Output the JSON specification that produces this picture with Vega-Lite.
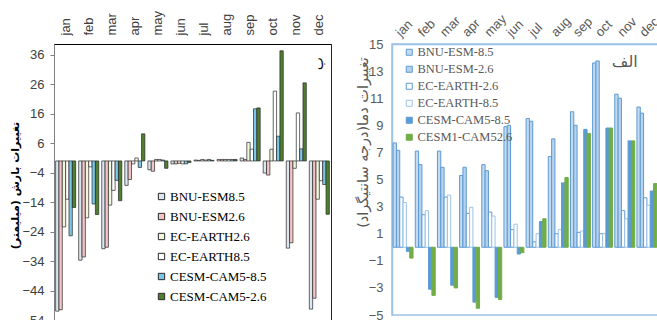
{
  "$schema": "https://vega.github.io/schema/vega-lite/v6.json",
  "padding": {"left": 8, "top": 0, "right": 0, "bottom": 0},
  "background": "white",
  "spacing": 19,
  "resolve": {
    "scale": {"x": "independent", "y": "independent", "xOffset": "independent", "fill": "independent", "stroke": "independent"},
    "legend": {"fill": "independent", "stroke": "independent"}
  },
  "datasets": {
    "precip": [
      {"m":"jan","s":"BNU-ESM8.5","v":-51},{"m":"jan","s":"BNU-ESM2.6","v":-50.5},{"m":"jan","s":"EC-EARTH2.6","v":-22.4},{"m":"jan","s":"EC-EARTH8.5","v":-13},{"m":"jan","s":"CESM-CAM5-8.5","v":-25.4},{"m":"jan","s":"CESM-CAM5-2.6","v":-15.8},
      {"m":"feb","s":"BNU-ESM8.5","v":-33.7},{"m":"feb","s":"BNU-ESM2.6","v":-32.6},{"m":"feb","s":"EC-EARTH2.6","v":-19.3},{"m":"feb","s":"EC-EARTH8.5","v":-2},{"m":"feb","s":"CESM-CAM5-8.5","v":-14.6},{"m":"feb","s":"CESM-CAM5-2.6","v":-18.2},
      {"m":"mar","s":"BNU-ESM8.5","v":-29.8},{"m":"mar","s":"BNU-ESM2.6","v":-29.3},{"m":"mar","s":"EC-EARTH2.6","v":-15},{"m":"mar","s":"EC-EARTH8.5","v":-10},{"m":"mar","s":"CESM-CAM5-8.5","v":-6.6},{"m":"mar","s":"CESM-CAM5-2.6","v":-13.5},
      {"m":"apr","s":"BNU-ESM8.5","v":-8.3},{"m":"apr","s":"BNU-ESM2.6","v":-6.3},{"m":"apr","s":"EC-EARTH2.6","v":-1},{"m":"apr","s":"EC-EARTH8.5","v":1},{"m":"apr","s":"CESM-CAM5-8.5","v":-2.2},{"m":"apr","s":"CESM-CAM5-2.6","v":9.2},
      {"m":"may","s":"BNU-ESM8.5","v":-3},{"m":"may","s":"BNU-ESM2.6","v":-3.5},{"m":"may","s":"EC-EARTH2.6","v":0.5},{"m":"may","s":"EC-EARTH8.5","v":0.5},{"m":"may","s":"CESM-CAM5-8.5","v":0.3},{"m":"may","s":"CESM-CAM5-2.6","v":-2.5},
      {"m":"jun","s":"BNU-ESM8.5","v":-1},{"m":"jun","s":"BNU-ESM2.6","v":-1},{"m":"jun","s":"EC-EARTH2.6","v":-0.8},{"m":"jun","s":"EC-EARTH8.5","v":-1},{"m":"jun","s":"CESM-CAM5-8.5","v":-1},{"m":"jun","s":"CESM-CAM5-2.6","v":-0.5},
      {"m":"jul","s":"BNU-ESM8.5","v":0.3},{"m":"jul","s":"BNU-ESM2.6","v":0.2},{"m":"jul","s":"EC-EARTH2.6","v":0.5},{"m":"jul","s":"EC-EARTH8.5","v":0.3},{"m":"jul","s":"CESM-CAM5-8.5","v":0.5},{"m":"jul","s":"CESM-CAM5-2.6","v":0.2},
      {"m":"aug","s":"BNU-ESM8.5","v":0.5},{"m":"aug","s":"BNU-ESM2.6","v":0.5},{"m":"aug","s":"EC-EARTH2.6","v":0.5},{"m":"aug","s":"EC-EARTH8.5","v":0.5},{"m":"aug","s":"CESM-CAM5-8.5","v":0.5},{"m":"aug","s":"CESM-CAM5-2.6","v":0.5},
      {"m":"sep","s":"BNU-ESM8.5","v":1},{"m":"sep","s":"BNU-ESM2.6","v":0.5},{"m":"sep","s":"EC-EARTH2.6","v":6.3},{"m":"sep","s":"EC-EARTH8.5","v":4},{"m":"sep","s":"CESM-CAM5-8.5","v":17.7},{"m":"sep","s":"CESM-CAM5-2.6","v":18},
      {"m":"oct","s":"BNU-ESM8.5","v":-4.1},{"m":"oct","s":"BNU-ESM2.6","v":-4.8},{"m":"oct","s":"EC-EARTH2.6","v":4},{"m":"oct","s":"EC-EARTH8.5","v":23.7},{"m":"oct","s":"CESM-CAM5-8.5","v":8.4},{"m":"oct","s":"CESM-CAM5-2.6","v":37.4},
      {"m":"nov","s":"BNU-ESM8.5","v":-29.6},{"m":"nov","s":"BNU-ESM2.6","v":-27.8},{"m":"nov","s":"EC-EARTH2.6","v":-2.5},{"m":"nov","s":"EC-EARTH8.5","v":16.3},{"m":"nov","s":"CESM-CAM5-8.5","v":4.1},{"m":"nov","s":"CESM-CAM5-2.6","v":26.5},
      {"m":"dec","s":"BNU-ESM8.5","v":-50.3},{"m":"dec","s":"BNU-ESM2.6","v":-46.6},{"m":"dec","s":"EC-EARTH2.6","v":-13},{"m":"dec","s":"EC-EARTH8.5","v":-6.7},{"m":"dec","s":"CESM-CAM5-8.5","v":-8},{"m":"dec","s":"CESM-CAM5-2.6","v":-18.1}
    ],
    "temp": [
      {"m":"jan","s":"BNU-ESM-8.5","v":7.7},{"m":"jan","s":"BNU-ESM-2.6","v":7.15},{"m":"jan","s":"EC-EARTH-2.6","v":3.7},{"m":"jan","s":"EC-EARTH-8.5","v":3.3},{"m":"jan","s":"CESM-CAM5-8.5","v":-0.3},{"m":"jan","s":"CESM1-CAM52.6","v":-0.8},
      {"m":"feb","s":"BNU-ESM-8.5","v":7.1},{"m":"feb","s":"BNU-ESM-2.6","v":6.1},{"m":"feb","s":"EC-EARTH-2.6","v":2.4},{"m":"feb","s":"EC-EARTH-8.5","v":2.7},{"m":"feb","s":"CESM-CAM5-8.5","v":-3.1},{"m":"feb","s":"CESM1-CAM52.6","v":-3.55},
      {"m":"mar","s":"BNU-ESM-8.5","v":7.1},{"m":"mar","s":"BNU-ESM-2.6","v":5.9},{"m":"mar","s":"EC-EARTH-2.6","v":3.7},{"m":"mar","s":"EC-EARTH-8.5","v":3.85},{"m":"mar","s":"CESM-CAM5-8.5","v":-2.8},{"m":"mar","s":"CESM1-CAM52.6","v":-3.0},
      {"m":"apr","s":"BNU-ESM-8.5","v":5.3},{"m":"apr","s":"BNU-ESM-2.6","v":5.9},{"m":"apr","s":"EC-EARTH-2.6","v":2.5},{"m":"apr","s":"EC-EARTH-8.5","v":2.95},{"m":"apr","s":"CESM-CAM5-8.5","v":-4.05},{"m":"apr","s":"CESM1-CAM52.6","v":-4.5},
      {"m":"may","s":"BNU-ESM-8.5","v":6.1},{"m":"may","s":"BNU-ESM-2.6","v":5.65},{"m":"may","s":"EC-EARTH-2.6","v":2.6},{"m":"may","s":"EC-EARTH-8.5","v":2.3},{"m":"may","s":"CESM-CAM5-8.5","v":-3.7},{"m":"may","s":"CESM1-CAM52.6","v":-3.85},
      {"m":"jun","s":"BNU-ESM-8.5","v":8.9},{"m":"jun","s":"BNU-ESM-2.6","v":9.0},{"m":"jun","s":"EC-EARTH-2.6","v":1.3},{"m":"jun","s":"EC-EARTH-8.5","v":1.7},{"m":"jun","s":"CESM-CAM5-8.5","v":-0.5},{"m":"jun","s":"CESM1-CAM52.6","v":-0.4},
      {"m":"jul","s":"BNU-ESM-8.5","v":9.5},{"m":"jul","s":"BNU-ESM-2.6","v":9.3},{"m":"jul","s":"EC-EARTH-2.6","v":0.4},{"m":"jul","s":"EC-EARTH-8.5","v":1.0},{"m":"jul","s":"CESM-CAM5-8.5","v":1.9},{"m":"jul","s":"CESM1-CAM52.6","v":2.1},
      {"m":"aug","s":"BNU-ESM-8.5","v":6.7},{"m":"aug","s":"BNU-ESM-2.6","v":8.0},{"m":"aug","s":"EC-EARTH-2.6","v":1.0},{"m":"aug","s":"EC-EARTH-8.5","v":1.3},{"m":"aug","s":"CESM-CAM5-8.5","v":4.75},{"m":"aug","s":"CESM1-CAM52.6","v":5.15},
      {"m":"sep","s":"BNU-ESM-8.5","v":10.0},{"m":"sep","s":"BNU-ESM-2.6","v":9.0},{"m":"sep","s":"EC-EARTH-2.6","v":1.1},{"m":"sep","s":"EC-EARTH-8.5","v":1.2},{"m":"sep","s":"CESM-CAM5-8.5","v":8.7},{"m":"sep","s":"CESM1-CAM52.6","v":8.4},
      {"m":"oct","s":"BNU-ESM-8.5","v":13.6},{"m":"oct","s":"BNU-ESM-2.6","v":13.75},{"m":"oct","s":"EC-EARTH-2.6","v":1.0},{"m":"oct","s":"EC-EARTH-8.5","v":1.0},{"m":"oct","s":"CESM-CAM5-8.5","v":8.8},{"m":"oct","s":"CESM1-CAM52.6","v":8.8},
      {"m":"nov","s":"BNU-ESM-8.5","v":11.3},{"m":"nov","s":"BNU-ESM-2.6","v":11.0},{"m":"nov","s":"EC-EARTH-2.6","v":2.7},{"m":"nov","s":"EC-EARTH-8.5","v":2.1},{"m":"nov","s":"CESM-CAM5-8.5","v":7.85},{"m":"nov","s":"CESM1-CAM52.6","v":7.85},
      {"m":"dec","s":"BNU-ESM-8.5","v":10.35},{"m":"dec","s":"BNU-ESM-2.6","v":9.9},{"m":"dec","s":"EC-EARTH-2.6","v":3.65},{"m":"dec","s":"EC-EARTH-8.5","v":3.1},{"m":"dec","s":"CESM-CAM5-8.5","v":4.15},{"m":"dec","s":"CESM1-CAM52.6","v":4.7}
    ]
  },
  "hconcat": [
    {
      "width": 277,
      "height": 276,
      "view": {"stroke": "#262626", "strokeWidth": 1},
      "layer": [
        {
          "mark": {"type": "rule", "color": "#bfbfbf", "strokeWidth": 1},
          "encoding": {"y": {"datum": 0, "type": "quantitative"}}
        },
        {
          "data": {"name": "precip"},
          "mark": {"type": "bar", "stroke": "#262626", "strokeWidth": 0.7},
          "encoding": {
            "x": {"field": "m", "type": "nominal", "sort": ["jan","feb","mar","apr","may","jun","jul","aug","sep","oct","nov","dec"],
              "scale": {"paddingInner": 0.13, "paddingOuter": 0.07},
              "axis": {"orient": "top", "title": null, "labelAngle": -90, "ticks": false, "labelPadding": 9, "labelOverlap": false, "labelFont": "Liberation Sans", "labelFontSize": 13, "labelColor": "#404040", "domainColor": "#000000", "domainWidth": 1, "minExtent": 40}},
            "y": {"field": "v", "type": "quantitative",
              "scale": {"domain": [-54, 39.7], "nice": false, "zero": false},
              "axis": {"values": [-54,-44,-34,-24,-14,-4,6,16,26,36], "tickCount": 30, "format": "d", "labelOverlap": false, "grid": false, "tickSize": 4, "tickColor": "#808080", "domainColor": "#808080", "labelPadding": 6, "labelFont": "Liberation Sans", "labelFontSize": 13, "labelColor": "#404040",
                "title": "تغییرات بارش (میلیمتر)", "titleFont": "DejaVu Sans", "titleFontSize": 11, "titleFontWeight": "bold", "titleColor": "#000000", "titleX": -39, "titleY": 141, "titleBaseline": "middle"}},
            "xOffset": {"field": "s", "type": "nominal", "sort": ["BNU-ESM8.5","BNU-ESM2.6","EC-EARTH2.6","EC-EARTH8.5","CESM-CAM5-8.5","CESM-CAM5-2.6"]},
            "fill": {"field": "s", "type": "nominal",
              "scale": {"domain": ["BNU-ESM8.5","BNU-ESM2.6","EC-EARTH2.6","EC-EARTH8.5","CESM-CAM5-8.5","CESM-CAM5-2.6"], "range": ["#dbe6f1","#f3c4c4","#f3f6de","#ffffff","#7cc6e6","#4f7f2f"]},
              "legend": {"orient": "none", "legendX": 101, "legendY": 146, "title": null, "labelFont": "Liberation Serif", "labelFontSize": 13, "labelColor": "#000000", "symbolType": "square", "symbolSize": 40, "symbolStrokeColor": "#262626", "symbolStrokeWidth": 1, "rowPadding": 6, "labelOffset": 2}}
          }
        },
        {
          "data": {"values": [{"m": "dec", "v": 33, "t": "ب"}]},
          "mark": {"type": "text", "font": "DejaVu Sans", "fontSize": 14, "color": "#000000", "angle": 270},
          "encoding": {
            "x": {"field": "m", "type": "nominal", "sort": ["jan","feb","mar","apr","may","jun","jul","aug","sep","oct","nov","dec"]},
            "y": {"field": "v", "type": "quantitative"},
            "text": {"field": "t"}
          }
        }
      ]
    },
    {
      "width": 266,
      "height": 271,
      "view": {"stroke": "#9dc3e6", "strokeWidth": 1.5},
      "layer": [
        {
          "mark": {"type": "rule", "color": "#d9d9d9", "strokeWidth": 1},
          "encoding": {"y": {"datum": 0, "type": "quantitative"}}
        },
        {
          "data": {"name": "temp"},
          "mark": {"type": "bar", "strokeWidth": 1},
          "encoding": {
            "x": {"field": "m", "type": "nominal", "sort": ["jan","feb","mar","apr","may","jun","jul","aug","sep","oct","nov","dec"],
              "scale": {"paddingInner": 0.1, "paddingOuter": 0.05},
              "axis": {"orient": "top", "title": null, "labelAngle": -45, "ticks": false, "labelPadding": 5, "labelOverlap": false, "labelFont": "Liberation Sans", "labelFontSize": 13, "labelColor": "#595959", "domainColor": "#9dc3e6", "domainWidth": 1.5, "minExtent": 43}},
            "y": {"field": "v", "type": "quantitative",
              "scale": {"domain": [-5, 15], "nice": false, "zero": false},
              "axis": {"values": [-5,-3,-1,1,3,5,7,9,11,13,15], "tickCount": 30, "format": "d", "labelOverlap": false, "grid": false, "ticks": false, "domainColor": "#9dc3e6", "domainWidth": 1.5, "labelPadding": 9, "labelFont": "Liberation Sans", "labelFontSize": 13, "labelColor": "#595959", "minExtent": 40,
                "title": "تغییرات دما(درجه سانتیگراد)", "titleFont": "DejaVu Sans", "titleFontSize": 14.5, "titleFontWeight": "normal", "titleColor": "#595959", "titleX": -29, "titleY": 98, "titleBaseline": "middle"}},
            "xOffset": {"field": "s", "type": "nominal", "sort": ["BNU-ESM-8.5","BNU-ESM-2.6","EC-EARTH-2.6","EC-EARTH-8.5","CESM-CAM5-8.5","CESM1-CAM52.6"]},
            "fill": {"field": "s", "type": "nominal",
              "scale": {"domain": ["BNU-ESM-8.5","BNU-ESM-2.6","EC-EARTH-2.6","EC-EARTH-8.5","CESM-CAM5-8.5","CESM1-CAM52.6"], "range": ["#c6daef","#b9d2ec","#ffffff","#ffffff","#5b9bd5","#70ad47"]},
              "legend": {"orient": "none", "legendX": 11, "legendY": 2, "title": null, "labelFont": "Liberation Serif", "labelFontSize": 12.5, "labelColor": "#595959", "symbolType": "square", "symbolSize": 36, "symbolStrokeWidth": 1, "rowPadding": 4, "labelOffset": 2}},
            "stroke": {"field": "s", "type": "nominal",
              "scale": {"domain": ["BNU-ESM-8.5","BNU-ESM-2.6","EC-EARTH-2.6","EC-EARTH-8.5","CESM-CAM5-8.5","CESM1-CAM52.6"], "range": ["#5b9bd5","#5b9bd5","#5b9bd5","#9dc3e6","#5b9bd5","#70ad47"]},
              "legend": {"orient": "none", "legendX": 11, "legendY": 2, "title": null, "labelFont": "Liberation Serif", "labelFontSize": 12.5, "labelColor": "#595959", "symbolType": "square", "symbolSize": 36, "symbolStrokeWidth": 1, "rowPadding": 4, "labelOffset": 2}}
          }
        },
        {
          "data": {"values": [{"m": "nov", "v": 13.7, "t": "الف"}]},
          "mark": {"type": "text", "font": "DejaVu Sans", "fontSize": 16, "color": "#595959"},
          "encoding": {
            "x": {"field": "m", "type": "nominal", "sort": ["jan","feb","mar","apr","may","jun","jul","aug","sep","oct","nov","dec"]},
            "y": {"field": "v", "type": "quantitative"},
            "text": {"field": "t"}
          }
        }
      ]
    }
  ]
}
